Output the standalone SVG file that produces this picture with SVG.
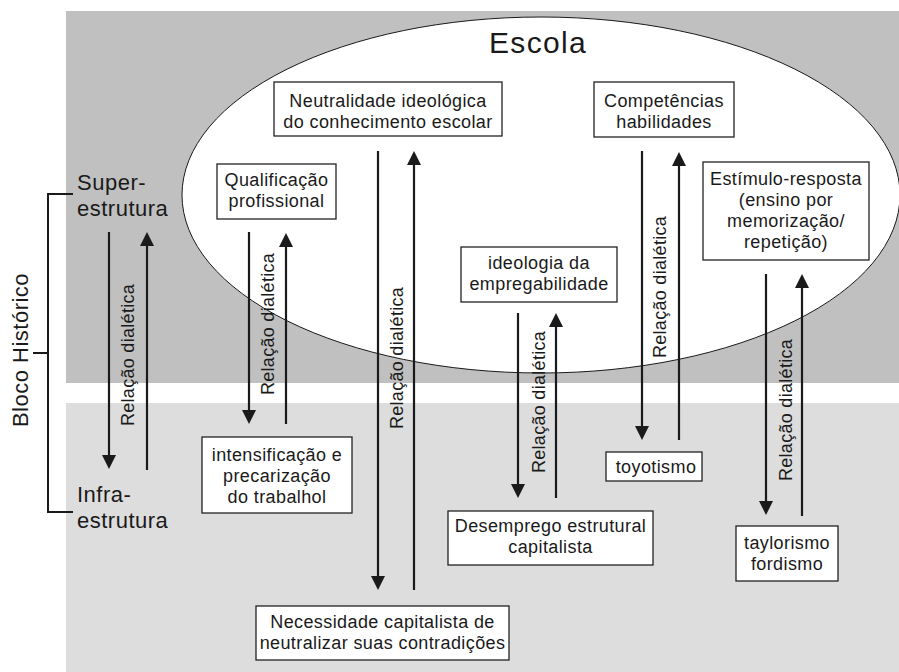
<svg xmlns="http://www.w3.org/2000/svg" width="899" height="672" viewBox="0 0 899 672">
<style>
  .bg { stroke: none; }
  .box { fill: #ffffff; stroke: #222222; stroke-width: 1.3; }
  .t { font-family: "Liberation Sans", Arial, sans-serif; font-size: 18px; letter-spacing: 0.4px; fill: #1a1a1a; text-anchor: middle; }
  .big { font-family: "Liberation Sans", Arial, sans-serif; font-size: 22px; letter-spacing: 0.5px; fill: #1a1a1a; }
  .lbl { font-family: "Liberation Sans", Arial, sans-serif; font-size: 18px; letter-spacing: 0.3px; fill: #1a1a1a; text-anchor: middle; }
  .arr { stroke: #1a1a1a; stroke-width: 2.2; fill: none; marker-end: url(#ah); }
  .br { stroke: #1a1a1a; stroke-width: 2; fill: none; }
</style>
<defs>
  <marker id="ah" markerUnits="userSpaceOnUse" viewBox="0 0 14 14" refX="8" refY="7" markerWidth="14" markerHeight="14" orient="auto">
    <path d="M0,0 L14,7 L0,14 Z" fill="#1a1a1a"/>
  </marker>
</defs>

<!-- background bands -->
<rect class="bg" x="66" y="11" width="833" height="372" fill="#c0c0c0"/>
<rect class="bg" x="66" y="403" width="833" height="269" fill="#dddddd"/>

<!-- Escola ellipse -->
<g id="escola">
  <ellipse cx="541" cy="195" rx="359" ry="178" fill="#ffffff" stroke="#1a1a1a" stroke-width="1"/>
  <text x="538" y="53" font-family="'Liberation Sans', Arial, sans-serif" font-size="30" letter-spacing="1.3" fill="#1a1a1a" text-anchor="middle">Escola</text>
</g>

<!-- Bloco Histórico -->
<g id="bloco">
  <path class="br" d="M73,194 H48 V512 H73 M33,353 H48"/>
  <text class="big" transform="translate(28,350) rotate(-90)" text-anchor="middle">Bloco Histórico</text>
  <text class="big" x="77" y="190">Super-</text>
  <text class="big" x="77" y="216">estrutura</text>
  <text class="big" x="77" y="502">Infra-</text>
  <text class="big" x="77" y="528">estrutura</text>
</g>

<!-- nodes -->
<g id="neutralidade">
  <rect class="box" x="274" y="82" width="228" height="54"/>
  <text class="t" x="388" y="107">Neutralidade ideológica</text>
  <text class="t" x="388" y="128">do conhecimento escolar</text>
</g>
<g id="competencias">
  <rect class="box" x="594" y="82" width="140" height="55"/>
  <text class="t" x="664" y="107">Competências</text>
  <text class="t" x="664" y="128">habilidades</text>
</g>
<g id="qualificacao">
  <rect class="box" x="217" y="164" width="119" height="55"/>
  <text class="t" x="276.5" y="186">Qualificação</text>
  <text class="t" x="276.5" y="207">profissional</text>
</g>
<g id="estimulo">
  <rect class="box" x="703" y="162" width="166" height="98"/>
  <text class="t" x="786" y="185">Estímulo-resposta</text>
  <text class="t" x="786" y="206">(ensino por</text>
  <text class="t" x="786" y="227">memorização/</text>
  <text class="t" x="786" y="248">repetição)</text>
</g>
<g id="ideologia">
  <rect class="box" x="461" y="247" width="156" height="55"/>
  <text class="t" x="539" y="269">ideologia da</text>
  <text class="t" x="539" y="290">empregabilidade</text>
</g>
<g id="intensificacao">
  <rect class="box" x="202" y="437" width="150" height="76"/>
  <text class="t" x="277" y="461">intensificação e</text>
  <text class="t" x="277" y="482">precarização</text>
  <text class="t" x="277" y="503">do trabalhol</text>
</g>
<g id="necessidade">
  <rect class="box" x="256" y="606" width="253" height="54"/>
  <text class="t" x="382.5" y="628">Necessidade capitalista de</text>
  <text class="t" x="382.5" y="649">neutralizar suas contradições</text>
</g>
<g id="desemprego">
  <rect class="box" x="448" y="511" width="205" height="54"/>
  <text class="t" x="550.5" y="532">Desemprego estrutural</text>
  <text class="t" x="550.5" y="553">capitalista</text>
</g>
<g id="toyotismo">
  <rect class="box" x="606" y="452" width="96" height="29"/>
  <text class="t" x="656" y="473">toyotismo</text>
</g>
<g id="taylorismo">
  <rect class="box" x="736" y="526" width="102" height="55"/>
  <text class="t" x="787" y="549">taylorismo</text>
  <text class="t" x="787" y="570">fordismo</text>
</g>

<!-- connectors -->
<g id="connectors">
  <path class="arr" d="M109,232 V463"/>
  <path class="arr" d="M147,470 V238"/>
  <path class="arr" d="M249,232 V418"/>
  <path class="arr" d="M286,424 V239"/>
  <path class="arr" d="M378,151 V584"/>
  <path class="arr" d="M414,590 V157"/>
  <path class="arr" d="M518,313 V492"/>
  <path class="arr" d="M556,498 V319"/>
  <path class="arr" d="M642,151 V434"/>
  <path class="arr" d="M679,440 V158"/>
  <path class="arr" d="M766,274 V509"/>
  <path class="arr" d="M802,516 V280"/>
  <text class="lbl" transform="translate(134,355) rotate(-90)">Relação dialética</text>
  <text class="lbl" transform="translate(274,324) rotate(-90)">Relação dialética</text>
  <text class="lbl" transform="translate(403,358) rotate(-90)">Relação dialética</text>
  <text class="lbl" transform="translate(545,402) rotate(-90)">Relação dialética</text>
  <text class="lbl" transform="translate(666,287) rotate(-90)">Relação dialética</text>
  <text class="lbl" transform="translate(792,410) rotate(-90)">Relação dialética</text>
</g>
</svg>
